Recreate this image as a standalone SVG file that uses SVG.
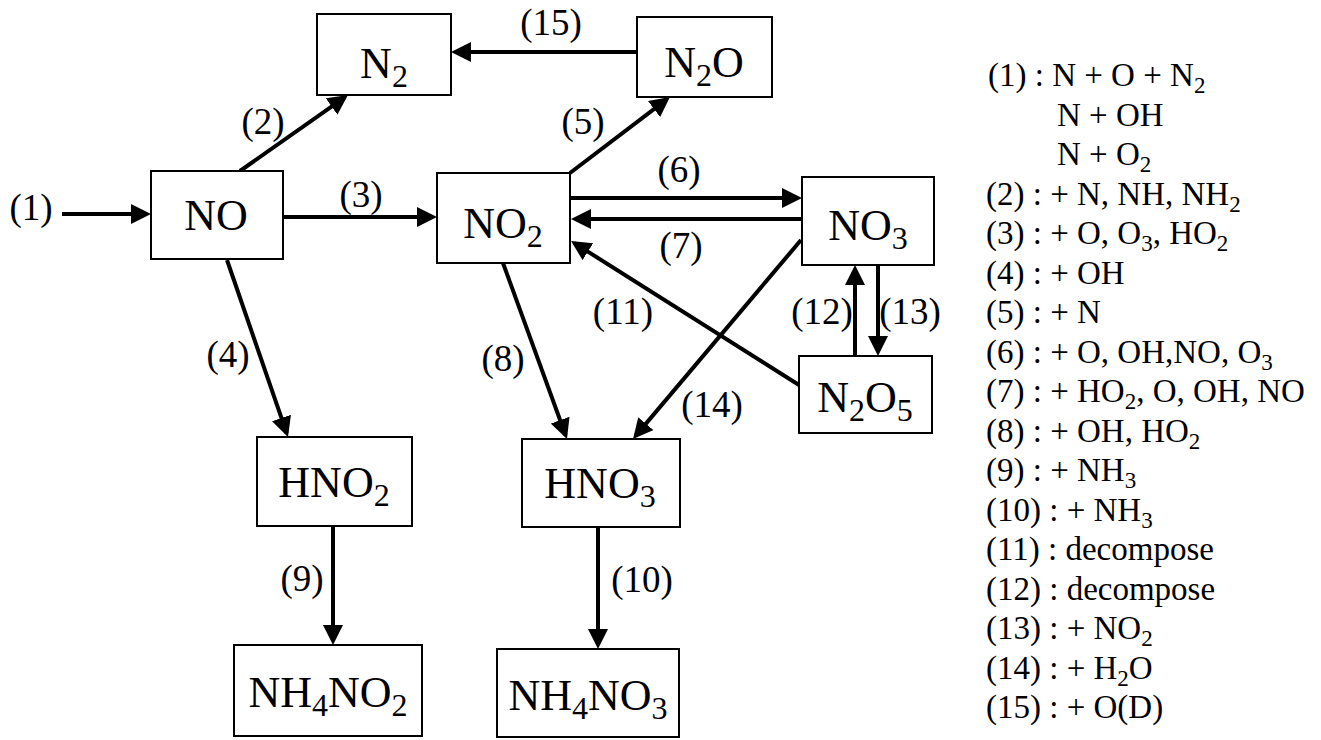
<svg xmlns="http://www.w3.org/2000/svg" width="1321" height="740" viewBox="0 0 1321 740">
<style>
text{font-family:"Liberation Serif","Times New Roman",serif;fill:#000}
.node rect{fill:#fff;stroke:#000;stroke-width:2}
.node text{font-size:44px;text-anchor:middle}
.ns{font-size:32px}
.lbl{font-size:37px;text-anchor:middle}
.leg text{font-size:33px}
.ls{font-size:23px}
#connectors line{stroke:#000;stroke-width:4;marker-end:url(#ah)}
</style>
<defs>
<marker id="ah" markerUnits="userSpaceOnUse" markerWidth="20" markerHeight="20" refX="16" refY="10" orient="auto">
<path d="M0,0 L20,10 L0,20 z" fill="#000"/>
</marker>
</defs>
<rect width="1321" height="740" fill="#fff"/>

<g id="connectors">
<line x1="62" y1="214" x2="147" y2="214"/>
<line x1="283" y1="217" x2="433" y2="217"/>
<line x1="240" y1="171" x2="344.7" y2="97.3"/>
<line x1="637" y1="52" x2="455" y2="52"/>
<line x1="570" y1="173" x2="666.8" y2="99.4"/>
<line x1="571" y1="198" x2="798" y2="198"/>
<line x1="802" y1="219" x2="575" y2="219"/>
<line x1="799" y1="385" x2="574.4" y2="243.1"/>
<line x1="801" y1="240" x2="635.6" y2="435.9"/>
<line x1="855" y1="356" x2="855" y2="269"/>
<line x1="878" y1="265" x2="878" y2="352"/>
<line x1="227" y1="260" x2="286.7" y2="433.2"/>
<line x1="503" y1="263" x2="565.6" y2="435.2"/>
<line x1="333" y1="526" x2="333" y2="641"/>
<line x1="598" y1="527" x2="598" y2="645"/>
</g>

<g id="labels">
<text class="lbl" x="31" y="220">(1)</text>
<text class="lbl" x="263" y="134">(2)</text>
<text class="lbl" x="361" y="207">(3)</text>
<text class="lbl" x="228" y="367">(4)</text>
<text class="lbl" x="583" y="134">(5)</text>
<text class="lbl" x="679" y="182">(6)</text>
<text class="lbl" x="681" y="258">(7)</text>
<text class="lbl" x="503" y="371">(8)</text>
<text class="lbl" x="302" y="591">(9)</text>
<text class="lbl" x="642" y="592">(10)</text>
<text class="lbl" x="623" y="324">(11)</text>
<text class="lbl" x="822" y="324">(12)</text>
<text class="lbl" x="910" y="324">(13)</text>
<text class="lbl" x="712" y="417">(14)</text>
<text class="lbl" x="551" y="35">(15)</text>
</g>

<g id="node-N2" class="node"><rect x="317" y="14" width="134" height="81"/><text x="384" y="78">N<tspan class="ns" dy="9">2</tspan></text></g>
<g id="node-N2O" class="node"><rect x="637" y="17" width="135" height="80"/><text x="704" y="77">N<tspan class="ns" dy="9">2</tspan><tspan dy="-9">O</tspan></text></g>
<g id="node-NO" class="node"><rect x="151" y="171" width="132" height="88"/><text x="216" y="230">NO</text></g>
<g id="node-NO2" class="node"><rect x="437" y="173" width="133" height="90"/><text x="503" y="238">NO<tspan class="ns" dy="9">2</tspan></text></g>
<g id="node-NO3" class="node"><rect x="802" y="177" width="132" height="88"/><text x="868" y="240">NO<tspan class="ns" dy="9">3</tspan></text></g>
<g id="node-N2O5" class="node"><rect x="799" y="356" width="133" height="77"/><text x="865" y="412">N<tspan class="ns" dy="9">2</tspan><tspan dy="-9">O</tspan><tspan class="ns" dy="9">5</tspan></text></g>
<g id="node-HNO2" class="node"><rect x="257" y="437" width="155" height="89"/><text x="334" y="497">HNO<tspan class="ns" dy="9">2</tspan></text></g>
<g id="node-HNO3" class="node"><rect x="522" y="439" width="158" height="88"/><text x="600" y="498">HNO<tspan class="ns" dy="9">3</tspan></text></g>
<g id="node-NH4NO2" class="node"><rect x="234" y="645" width="188" height="91"/><text x="328" y="707">NH<tspan class="ns" dy="9">4</tspan><tspan dy="-9">NO</tspan><tspan class="ns" dy="9">2</tspan></text></g>
<g id="node-NH4NO3" class="node"><rect x="497" y="649" width="182" height="88"/><text x="588" y="710">NH<tspan class="ns" dy="9">4</tspan><tspan dy="-9">NO</tspan><tspan class="ns" dy="9">3</tspan></text></g>

<g id="legend" class="leg">
<text x="988" y="86">(1) : N + O + N<tspan class="ls" dy="7">2</tspan></text>
<text x="1057" y="125.5">N + OH</text>
<text x="1057" y="165">N + O<tspan class="ls" dy="7">2</tspan></text>
<text x="986" y="204.5">(2) : + N, NH, NH<tspan class="ls" dy="7">2</tspan></text>
<text x="986" y="244">(3) : + O, O<tspan class="ls" dy="7">3</tspan><tspan dy="-7">, HO</tspan><tspan class="ls" dy="7">2</tspan></text>
<text x="986" y="283.5">(4) : + OH</text>
<text x="986" y="323">(5) : + N</text>
<text x="986" y="362.5">(6) : + O, OH,NO, O<tspan class="ls" dy="7">3</tspan></text>
<text x="986" y="402">(7) : + HO<tspan class="ls" dy="7">2</tspan><tspan dy="-7">, O, OH, NO</tspan></text>
<text x="986" y="441.5">(8) : + OH, HO<tspan class="ls" dy="7">2</tspan></text>
<text x="986" y="481">(9) : + NH<tspan class="ls" dy="7">3</tspan></text>
<text x="986" y="520.5">(10) : + NH<tspan class="ls" dy="7">3</tspan></text>
<text x="986" y="560">(11) : decompose</text>
<text x="986" y="599.5">(12) : decompose</text>
<text x="986" y="639">(13) : + NO<tspan class="ls" dy="7">2</tspan></text>
<text x="986" y="678.5">(14) : + H<tspan class="ls" dy="7">2</tspan><tspan dy="-7">O</tspan></text>
<text x="986" y="718">(15) : + O(D)</text>
</g>
</svg>
